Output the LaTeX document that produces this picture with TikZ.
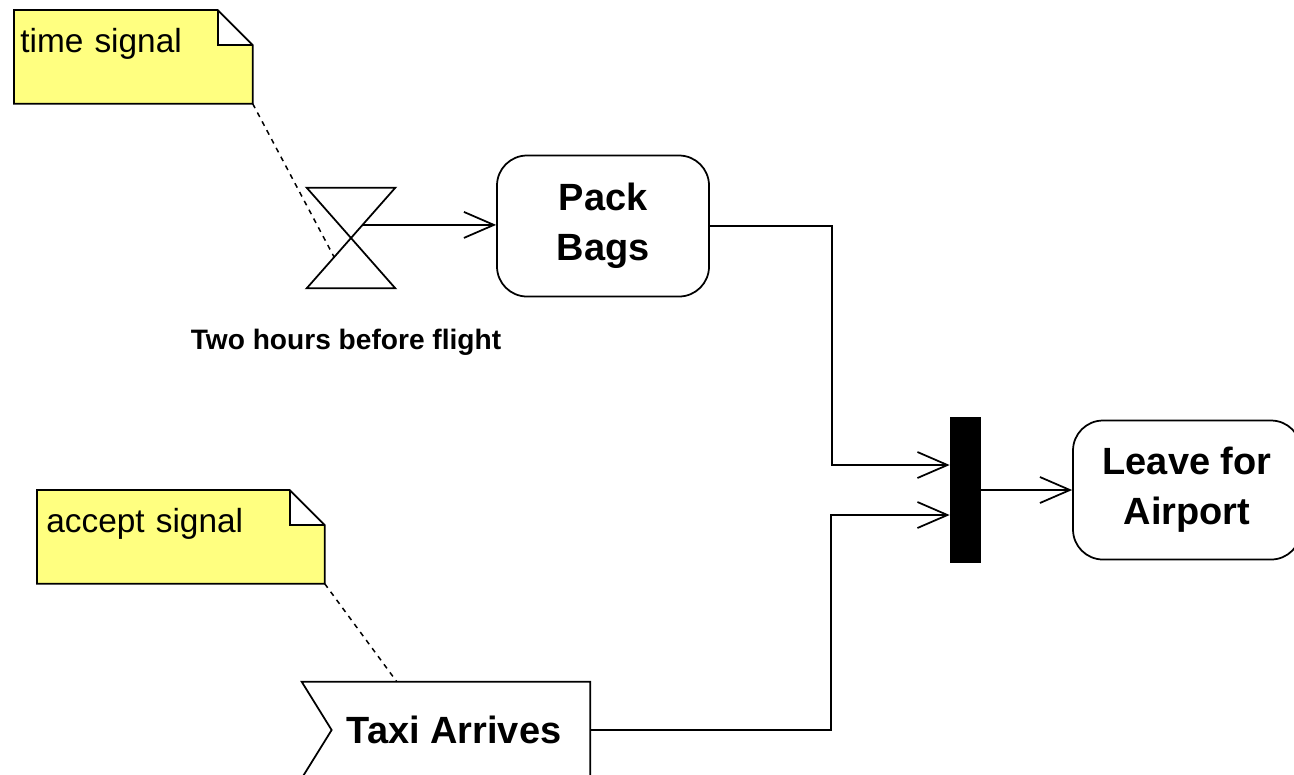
\documentclass[tikz,border=0pt]{standalone}
\usepackage{fontspec}
\setmainfont{Liberation Sans}
\usepackage{tikz}
\usetikzlibrary{shapes, positioning, arrows.meta, calc}
\definecolor{noteYellow}{RGB}{255,255,128}
\tikzstyle{flowLine}=[line width=0.35mm, draw=black]
\tikzstyle{arrow}=[->, flowLine, >={Straight Barb[length=6mm,width=5.2mm]}]
\tikzstyle{noteLink}=[flowLine, line width=0.3mm, dash pattern=on 1mm off 1mm]
\tikzstyle{note}=[anchor=north west, fill=noteYellow, inner ysep=0pt,
  text height=8.4mm, text depth=10.2mm, align=left,
  font=\fontsize{19}{23}\selectfont]
\tikzstyle{action}=[draw, flowLine, rounded corners=6mm, align=center,
  font=\fontsize{21.6}{28.5}\selectfont\bfseries]
\tikzstyle{event}=[minimum height=19.2mm, inner sep=0pt,
  font=\fontsize{21.6}{28.5}\selectfont\bfseries]
\tikzstyle{forkBar}=[fill=black, minimum width=6.2mm, minimum height=29.2mm, inner sep=0pt]

\begin{document}
\begin{tikzpicture}[x=0.2mm, y=-0.2mm]
      \useasboundingbox (0,0) rectangle (1294,774);
      \clip (0,0) rectangle (1294,774);

      % notes
      \node[note, inner xsep=1.2mm, text width=45.2mm] (timeNote) at (14,10) {time signal};
      \node[note, inner xsep=1.8mm, text width=53.8mm] (acceptNote) at (37,490) {accept signal};
      \foreach \n in {timeNote,acceptNote}
      {
        \fill[white] ([xshift=-7mm]\n.north east) rectangle ([yshift=-7mm]\n.north east);
        \draw[flowLine] (\n.north west) -- ([xshift=-7mm]\n.north east) -- ([yshift=-7mm]\n.north east)
          -- (\n.south east) -- (\n.south west) -- cycle;
        \draw[flowLine] ([xshift=-7mm]\n.north east) |- ([yshift=-7mm]\n.north east);
      }

      % timer, actions, fork
      \node[minimum width=17.6mm, minimum height=20mm, inner sep=0pt] (timer) at (351,238) {};
      \draw[flowLine] (timer.north west) -- (timer.north east) -- (timer.south west) -- (timer.south east) -- cycle;
      \node[font=\fontsize{16}{19}\selectfont\bfseries] (timerLabel) at (346,342) {Two hours before flight};
      \node[action, minimum width=42.4mm, minimum height=28.2mm] (pack) at (603,226) {Pack\\Bags};
      \node[forkBar] (bar) at (965.5,490) {};
      \node[action, minimum width=45.6mm, minimum height=27.8mm] (leave) at (1187,490) {Leave for\\Airport};
      \node[event, minimum width=54.4mm] (taxi) at (454,730) {Taxi Arrives};
      \draw[flowLine] ([xshift=-3.2mm]taxi.north west) -- (taxi.north east) -- (taxi.south east)
        -- ([xshift=-3.2mm]taxi.south west) -- ([xshift=2.8mm]taxi.west) -- cycle;

      % flows
      \coordinate (timerOut) at ($(timer.north east)!0.37!(timer.south west)$);
      \draw[arrow] (timerOut) -- (timerOut -| pack.west);
      \draw[arrow] (pack.east) -- ++(122,0) |- ([yshift=5mm]bar.west);
      \draw[arrow] (taxi.east) -- ++(241,0) |- ([yshift=-5mm]bar.west);
      \draw[arrow] (bar.east) -- (leave.west);

      % note links
      \draw[noteLink] (timeNote.south east) -- ($(timer.north east)!0.69!(timer.south west)$);
      \draw[noteLink] (acceptNote.south east) -- ($(taxi.north west)!0.29!(taxi.north east)$);
\end{tikzpicture}
\end{document}
